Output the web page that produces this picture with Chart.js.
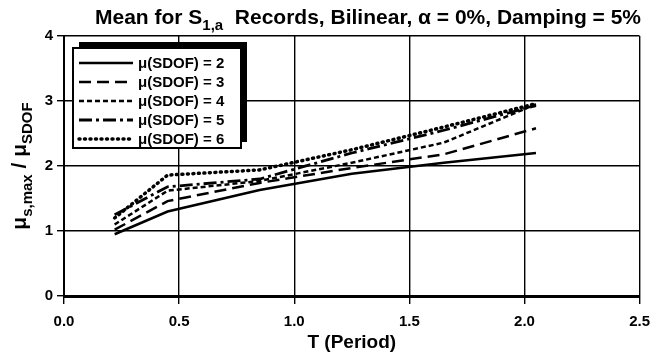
<!DOCTYPE html>
<html>
<head>
<meta charset="utf-8">
<script src="https://cdn.jsdelivr.net/npm/chart.js@4.4.1/dist/chart.umd.min.js"></script>
<style>
    html, body { margin: 0; padding: 0; background: #fff; }
    #wrap { position: relative; width: 659px; height: 362px; }
</style>
</head>
<body>
<div id="wrap"><canvas id="meanChart" width="659" height="362"></canvas></div>
<script>
const PERIODS = [0.22, 0.45, 0.85, 1.25, 1.65, 2.05];
const MU2 = [0.95, 1.30, 1.63, 1.88, 2.05, 2.20];
const MU3 = [1.02, 1.46, 1.74, 1.97, 2.18, 2.58];
const MU4 = [1.10, 1.62, 1.77, 2.05, 2.36, 2.95];
const MU5 = [1.25, 1.68, 1.80, 2.20, 2.55, 2.93];
const MU6 = [1.20, 1.86, 1.94, 2.25, 2.60, 2.96];
const SERIES_LABELS = ['μ(SDOF) = 2', 'μ(SDOF) = 3', 'μ(SDOF) = 4', 'μ(SDOF) = 5', 'μ(SDOF) = 6'];
const X_TICKS = [0, 0.5, 1.0, 1.5, 2.0, 2.5];
const Y_TICKS = [0, 1, 2, 3, 4];

const FONT = '"Liberation Sans", Arial, sans-serif';
const LINE_STYLES = [
    { dash: [], width: 2.5, cap: 'butt' },
    { dash: [12, 6], width: 2.5, cap: 'butt' },
    { dash: [5, 3], width: 2.5, cap: 'butt' },
    { dash: [13, 4, 3, 4], width: 2.8, cap: 'butt' },
    { dash: [1, 4.5], width: 3.5, cap: 'round' },
];

function toPoints(vals) {
    return PERIODS.map((t, i) => ({ x: t, y: vals[i] }));
}

const datasets = [MU2, MU3, MU4, MU5, MU6].map((vals, i) => ({
    label: SERIES_LABELS[i],
    data: toPoints(vals),
    borderColor: '#000',
    borderWidth: LINE_STYLES[i].width,
    borderDash: LINE_STYLES[i].dash,
    borderCapStyle: LINE_STYLES[i].cap,
    pointRadius: 0,
    tension: 0,
    fill: false,
}));

// title + y label with subscripts, drawn on the canvas
const textPlugin = {
    id: 'textPlugin',
    afterDraw(chart) {
        const ctx = chart.ctx;
        ctx.save();
        ctx.fillStyle = '#000';
        ctx.textBaseline = 'alphabetic';

        // title
        const parts = [
            { t: 'Mean for S', f: 'bold 21px ' + FONT, dy: 0 },
            { t: '1,a', f: 'bold 15px ' + FONT, dy: 6 },
            { t: '  Records, Bilinear, α = 0%, Damping = 5%', f: 'bold 21px ' + FONT, dy: 0 },
        ];
        let w = 0;
        parts.forEach(p => { ctx.font = p.f; w += ctx.measureText(p.t).width; });
        let x = 368 - w / 2;
        parts.forEach(p => {
            ctx.font = p.f;
            ctx.fillText(p.t, x, 24 + p.dy);
            x += ctx.measureText(p.t).width;
        });

        // y axis label, rotated
        ctx.translate(26, 166);
        ctx.rotate(-Math.PI / 2);
        const yparts = [
            { t: 'μ', f: 'bold 21px ' + FONT, dy: 0 },
            { t: 's,max', f: 'bold 15px ' + FONT, dy: 6 },
            { t: ' / μ', f: 'bold 21px ' + FONT, dy: 0 },
            { t: 'SDOF', f: 'bold 15px ' + FONT, dy: 6 },
        ];
        w = 0;
        yparts.forEach(p => { ctx.font = p.f; w += ctx.measureText(p.t).width; });
        x = -w / 2;
        yparts.forEach(p => {
            ctx.font = p.f;
            ctx.fillText(p.t, x, p.dy);
            x += ctx.measureText(p.t).width;
        });
        ctx.restore();
    }
};

// legend box with black drop shadow inside the plot
const boxLegend = {
    id: 'boxLegend',
    afterDraw(chart) {
        const ctx = chart.ctx;
        const bx = 73, by = 48, bw = 168, bh = 100;
        ctx.save();
        ctx.fillStyle = '#000';
        ctx.fillRect(bx + 6, by - 6, bw, bh);
        ctx.fillStyle = '#fff';
        ctx.fillRect(bx, by, bw, bh);
        ctx.strokeStyle = '#000';
        ctx.lineWidth = 2;
        ctx.strokeRect(bx, by, bw, bh);

        ctx.font = 'bold 15px ' + FONT;
        ctx.textBaseline = 'middle';
        chart.data.datasets.forEach((ds, i) => {
            const y = by + 15 + i * 19;
            ctx.beginPath();
            ctx.setLineDash(ds.borderDash);
            ctx.lineCap = ds.borderCapStyle;
            ctx.lineWidth = ds.borderWidth;
            ctx.strokeStyle = '#000';
            ctx.moveTo(bx + 6, y);
            ctx.lineTo(bx + 60, y);
            ctx.stroke();
            ctx.setLineDash([]);
            ctx.fillStyle = '#000';
            ctx.fillText(ds.label, bx + 65, y + 1);
        });
        ctx.restore();
    }
};

const ctx = document.getElementById('meanChart').getContext('2d');
new Chart(ctx, {
    type: 'line',
    data: { datasets },
    options: {
        responsive: false,
        animation: false,
        layout: { padding: { top: 36, right: 18, left: 0, bottom: 0 } },
        plugins: {
            legend: { display: false },
            tooltip: { enabled: false },
        },
        scales: {
            x: {
                type: 'linear',
                min: 0, max: 2.5,
                afterBuildTicks: s => { s.ticks = X_TICKS.map(v => ({ value: v })); },
                afterFit: s => { s.height = 66; },
                ticks: {
                    color: '#000',
                    font: { family: FONT, size: 15, weight: 'bold' },
                    padding: 9,
                    maxRotation: 0,
                    callback: v => v.toFixed(1),
                },
                grid: { color: '#000', lineWidth: 1.4, tickLength: 8 },
                border: { color: '#000', width: 3 },
                title: {
                    display: true,
                    text: 'T (Period)',
                    color: '#000',
                    font: { family: FONT, size: 19, weight: 'bold' },
                    padding: { top: 2, bottom: 8 },
                },
            },
            y: {
                min: 0, max: 4,
                afterBuildTicks: s => { s.ticks = Y_TICKS.map(v => ({ value: v })); },
                afterFit: s => { s.width = 64; },
                ticks: {
                    color: '#000',
                    font: { family: FONT, size: 15, weight: 'bold' },
                    padding: 4,
                },
                grid: { color: '#000', lineWidth: 1.4, tickLength: 7 },
                border: { color: '#000', width: 2 },
            },
        },
    },
    plugins: [textPlugin, boxLegend],
});
</script>
</body>
</html>
